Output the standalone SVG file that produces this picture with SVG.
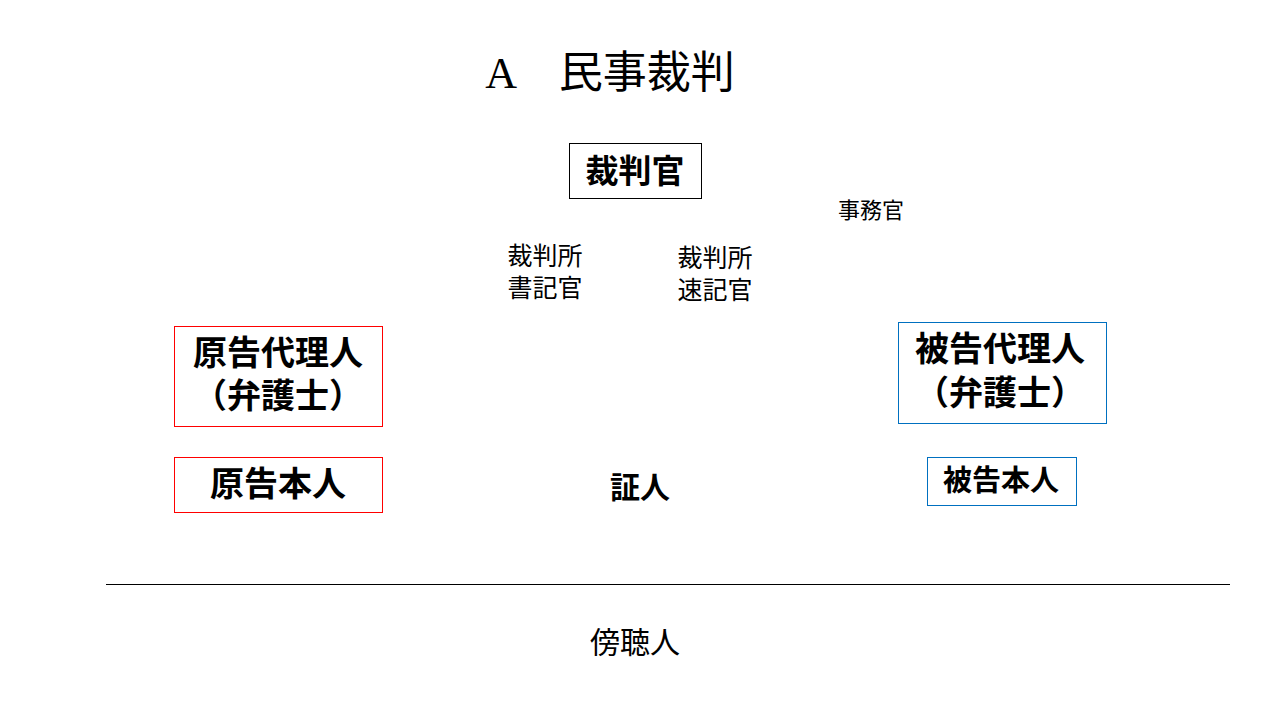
<svg xmlns="http://www.w3.org/2000/svg" width="1280" height="720" viewBox="0 0 1280 720">
<style>
.b{font-family:"Liberation Sans","Noto Sans CJK JP",sans-serif;font-weight:bold;text-anchor:middle;fill:#000}
.s{font-family:"Liberation Serif","Noto Sans CJK JP",serif;text-anchor:middle;fill:#000}
.red{fill:none;stroke:#FF0000;stroke-width:1}
.blue{fill:none;stroke:#0070C0;stroke-width:1}
.blk{fill:none;stroke:#000;stroke-width:1}
</style>
<rect width="1280" height="720" fill="#fff"/>
<text class="s" x="610" y="88" font-size="44">A　民事裁判</text>
<g id="judge"><rect class="blk" x="569.5" y="143.5" width="132" height="55"/><text class="b" x="635" y="183" font-size="33">裁判官</text></g>
<g id="clerk"><text class="s" x="871" y="218" font-size="22">事務官</text></g>
<g id="secretary"><text class="s" x="545" y="265" font-size="25">裁判所</text><text class="s" x="545" y="297" font-size="25">書記官</text></g>
<g id="stenographer"><text class="s" x="715" y="267" font-size="25">裁判所</text><text class="s" x="715" y="299" font-size="25">速記官</text></g>
<g id="plaintiff-lawyer"><rect class="red" x="174.5" y="326.5" width="208" height="100"/><text class="b" x="278" y="365" font-size="34">原告代理人</text><text class="b" x="278" y="408" font-size="34">（弁護士）</text></g>
<g id="defendant-lawyer"><rect class="blue" x="898.5" y="322.5" width="208" height="101"/><text class="b" x="1000" y="361" font-size="34">被告代理人</text><text class="b" x="1000" y="405" font-size="34">（弁護士）</text></g>
<g id="plaintiff"><rect class="red" x="174.5" y="457.5" width="208" height="55"/><text class="b" x="278" y="496" font-size="34">原告本人</text></g>
<g id="defendant"><rect class="blue" x="927.5" y="457.5" width="149" height="48"/><text class="b" x="1001" y="491" font-size="29">被告本人</text></g>
<g id="witness"><text class="b" x="640" y="498" font-size="30">証人</text></g>
<g id="connectors"><line x1="106" y1="584.5" x2="1230" y2="584.5" stroke="#000" stroke-width="1"/></g>
<g id="audience"><text class="s" x="635" y="653" font-size="30">傍聴人</text></g>
</svg>
